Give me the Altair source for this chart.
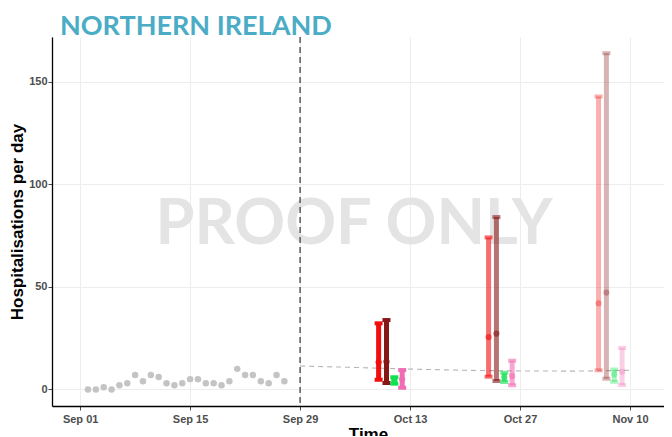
import altair as alt
import pandas as pd

# observed daily hospitalisations (grey dots), Sep 02 .. Sep 27
obs_dates = [d.strftime("%Y-%m-%dT00:00:00") for d in pd.date_range("2020-09-02", "2020-09-27")]
obs_values = [0, 0, 1, 0, 2, 3, 7, 4, 7, 6, 3, 2, 3, 5, 5, 3, 3, 2, 4, 10, 7, 7, 4, 3, 7, 4]

# dashed trend line
trend_dates = ["2020-09-29T00:00:00", "2020-10-06T00:00:00", "2020-10-13T00:00:00", "2020-10-20T00:00:00",
               "2020-10-27T00:00:00", "2020-11-03T00:00:00", "2020-11-10T00:00:00"]
trend_values = [11.4, 10.7, 9.9, 9.3, 9.0, 8.9, 9.3]

# projection error bars
eb_series = ["A", "B", "C", "D"] * 3
eb_dates = ["2020-10-09T00:00:00", "2020-10-10T00:00:00", "2020-10-11T00:00:00", "2020-10-12T00:00:00",
            "2020-10-23T00:00:00", "2020-10-24T00:00:00", "2020-10-25T00:00:00", "2020-10-26T00:00:00",
            "2020-11-06T00:00:00", "2020-11-07T00:00:00", "2020-11-08T00:00:00", "2020-11-09T00:00:00"]
eb_low = [4.7, 3.1, 2.8, 0.8, 6.2, 4.1, 3.6, 2.0, 9.3, 5.2, 3.7, 2.1]
eb_mid = [13.2, 13.5, 4.4, 4.9, 25.5, 27.2, 5.9, 6.5, 42.0, 47.2, 7.3, 8.6]
eb_high = [32.2, 33.8, 5.9, 9.4, 74.1, 84.0, 8.1, 14.0, 142.8, 163.9, 9.7, 20.2]
eb_opacity = [1.0] * 4 + [0.6] * 4 + [0.33] * 4

series_domain = ["A", "B", "C", "D"]
series_colors = ["#f20d0d", "#851717", "#0fe04f", "#f06cb4"]

x_ticks = ["2020-09-01", "2020-09-15", "2020-09-29", "2020-10-13", "2020-10-27", "2020-11-10"]
y_ticks = [0, 50, 100, 150]

obs = pd.DataFrame({"date": obs_dates, "value": obs_values})
trend = pd.DataFrame({"date": trend_dates, "value": trend_values})
eb = pd.DataFrame({"series": eb_series, "date": eb_dates, "low": eb_low, "mid": eb_mid,
                   "high": eb_high, "op": eb_opacity})
vline = pd.DataFrame({"date": ["2020-09-29T00:00:00"]})
mark_df = pd.DataFrame({"t": ["PROOF ONLY"]})


def dt(s, h=0):
    y, m, d = [int(v) for v in s.split("-")]
    return alt.DateTime(year=y, month=m, date=d, hours=h)


x_scale = alt.Scale(domain=[dt("2020-08-28", 10), dt("2020-11-14", 8)])
y_scale = alt.Scale(domain=[-8.1, 171.8], nice=False, zero=False)

x_enc = alt.X("date:T", scale=x_scale,
              axis=alt.Axis(values=[dt(s) for s in x_ticks], format="%b %d", title="Time",
                            titleX=316, titleY=20, labelPadding=3, grid=True))
y_axis = alt.Axis(values=y_ticks, title="Hospitalisations per day", titlePadding=2, grid=True)

color = alt.Color("series:N", scale=alt.Scale(domain=series_domain, range=series_colors), legend=None)
opac = alt.Opacity("op:Q", scale=None)

watermark = alt.Chart(mark_df).mark_text(
    font="Lato", fontWeight="bold", fontSize=63, color="#e4e4e4", align="center", baseline="middle"
).encode(x=alt.value(302), y=alt.value(188), text="t:N")

vrule = alt.Chart(vline).mark_rule(color="#222222", strokeDash=[6, 4], strokeWidth=1.1).encode(x=x_enc)

points = alt.Chart(obs).mark_circle(size=42, color="#c4c4c4", opacity=1).encode(
    x=x_enc, y=alt.Y("value:Q", scale=y_scale, axis=y_axis))

line = alt.Chart(trend).mark_line(color="#b5b5b5", strokeDash=[5, 4], strokeWidth=1.1).encode(
    x=x_enc, y=alt.Y("value:Q", scale=y_scale, axis=y_axis))

bars = alt.Chart(eb).mark_rule(strokeWidth=5).encode(
    x=x_enc, y=alt.Y("low:Q", scale=y_scale, axis=y_axis), y2="high:Q", color=color, opacity=opac)

caps_lo = alt.Chart(eb).mark_tick(orient="horizontal", size=8, thickness=4).encode(
    x=x_enc, y=alt.Y("low:Q", scale=y_scale, axis=y_axis), color=color, opacity=opac)
caps_hi = alt.Chart(eb).mark_tick(orient="horizontal", size=8, thickness=4).encode(
    x=x_enc, y=alt.Y("high:Q", scale=y_scale, axis=y_axis), color=color, opacity=opac)
mids = alt.Chart(eb).mark_circle(size=38).encode(
    x=x_enc, y=alt.Y("mid:Q", scale=y_scale, axis=y_axis), color=color, opacity=opac)

chart = alt.layer(watermark, vrule, line, points, bars, caps_lo, caps_hi, mids).properties(
    width=612, height=369,
    autosize=alt.AutoSizeParams(type="none"),
    padding={"left": 44, "top": 29, "right": 0, "bottom": 30},
    title=alt.TitleParams("NORTHERN IRELAND", anchor="start", frame="group", font="Lato", fontSize=27,
                          fontWeight="bold", color="#4bacc6", dx=8, offset=-5),
).configure_view(stroke=None).configure_axis(
    labelFont="Liberation Sans", labelFontWeight="bold", labelFontSize=11, labelColor="#4d4d4d",
    titleFont="Liberation Sans", titleFontWeight="bold", titleFontSize=17, titleColor="#000000",
    gridColor="#ededed", gridWidth=1, domainColor="#000000", domainWidth=1.3,
    tickColor="#4d4d4d", tickSize=4,
).configure_axisY(labelPadding=1)

chart.save("out.html", embed_options={"renderer": "svg", "actions": False})
